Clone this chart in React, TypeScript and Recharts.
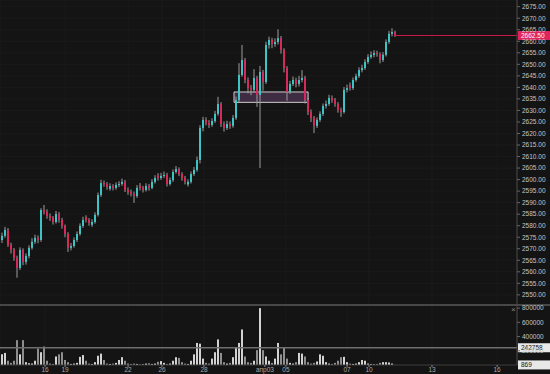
import React from "react";
import {
  ComposedChart,
  Bar,
  XAxis,
  YAxis,
  CartesianGrid,
  ReferenceLine,
  ReferenceArea,
  Cell,
} from "recharts";

// candle values, one every ~3px of the reference
const opens = [
  2573.8, 2575.6, 2578.0, 2571.7, 2569.5, 2566.0, 2561.7, 2569.5, 2564.3, 2566.9,
  2570.4, 2573.0, 2574.7, 2573.8, 2586.8, 2586.0, 2584.2, 2583.4, 2581.6, 2585.1,
  2582.5, 2579.9, 2576.4, 2570.4, 2571.2, 2573.8, 2576.4, 2579.9, 2583.6, 2582.5,
  2580.4, 2581.6, 2584.7, 2593.3, 2598.5, 2598.1, 2596.0, 2597.2, 2596.4, 2597.7,
  2598.1, 2599.0, 2595.5, 2594.6, 2593.8, 2592.9, 2597.4, 2596.4, 2595.5, 2597.2,
  2596.4, 2599.0, 2601.8, 2600.7, 2601.6, 2602.0, 2598.1, 2599.8, 2603.3, 2604.6,
  2602.4, 2600.7, 2597.9, 2599.0, 2602.4, 2604.2, 2608.5, 2622.4, 2625.9, 2624.6,
  2623.7, 2625.4, 2628.5, 2632.8, 2624.1, 2622.4, 2624.1, 2623.3, 2626.7, 2634.5,
  2645.4, 2651.9, 2643.2, 2639.7, 2638.9, 2644.1, 2636.7, 2646.7, 2642.3, 2658.4,
  2660.6, 2658.8, 2659.7, 2661.4, 2656.2, 2648.4, 2638.0, 2641.5, 2643.2, 2641.5,
  2643.2, 2644.1, 2634.5, 2629.3, 2626.7, 2623.3, 2625.9, 2628.5, 2631.9, 2632.8,
  2635.4, 2634.5, 2632.8, 2630.2, 2629.3, 2638.9, 2641.0, 2639.7, 2643.2, 2644.9,
  2647.5, 2648.4, 2651.0, 2653.2, 2654.1, 2654.9, 2654.5, 2651.9, 2654.1, 2659.7,
  2663.2, 2664.0,
];

const closes = [
  2575.6, 2578.2, 2571.7, 2569.5, 2566.0, 2561.7, 2569.5, 2564.3, 2566.9, 2570.4,
  2573.0, 2574.7, 2573.8, 2586.8, 2586.0, 2584.2, 2583.4, 2581.6, 2585.1, 2582.5,
  2579.9, 2576.4, 2570.4, 2571.2, 2573.8, 2576.4, 2579.9, 2582.5, 2582.5, 2581.2,
  2581.6, 2584.7, 2593.3, 2598.5, 2598.1, 2596.8, 2597.2, 2596.4, 2597.7, 2598.1,
  2599.0, 2595.5, 2594.6, 2593.8, 2592.9, 2596.4, 2596.4, 2595.5, 2597.2, 2596.4,
  2599.0, 2600.7, 2600.7, 2601.6, 2602.0, 2598.1, 2599.8, 2603.3, 2604.6, 2602.4,
  2600.7, 2599.0, 2599.0, 2602.4, 2604.2, 2608.5, 2622.4, 2625.9, 2624.6, 2623.7,
  2625.4, 2628.5, 2632.8, 2624.1, 2622.4, 2624.1, 2623.3, 2626.7, 2634.5, 2645.4,
  2651.9, 2643.2, 2639.7, 2638.9, 2644.1, 2636.7, 2646.7, 2642.3, 2658.4, 2660.6,
  2658.8, 2659.7, 2661.4, 2656.2, 2648.4, 2638.0, 2641.5, 2643.2, 2641.5, 2643.2,
  2644.1, 2634.5, 2629.3, 2626.7, 2623.3, 2625.9, 2628.5, 2631.9, 2632.8, 2635.4,
  2634.5, 2632.8, 2630.2, 2629.3, 2638.9, 2639.7, 2639.7, 2643.2, 2644.9, 2647.5,
  2648.4, 2651.0, 2653.2, 2654.1, 2654.9, 2654.5, 2651.9, 2654.1, 2659.7, 2663.2,
  2664.0, 2662.5,
];

const highs = [
  2577.0, 2579.5, 2579.0, 2572.6, 2570.3, 2567.0, 2570.6, 2570.2, 2568.0, 2571.5,
  2574.6, 2576.1, 2575.8, 2587.6, 2589.0, 2587.1, 2585.3, 2584.2, 2586.4, 2585.9,
  2583.4, 2580.5, 2577.2, 2572.5, 2574.9, 2577.5, 2581.0, 2583.9, 2584.5, 2583.3,
  2582.8, 2585.8, 2594.4, 2599.9, 2599.6, 2598.9, 2598.4, 2598.0, 2598.8, 2599.3,
  2600.4, 2599.8, 2596.6, 2595.7, 2594.8, 2597.6, 2598.5, 2597.3, 2598.4, 2598.1,
  2600.2, 2601.9, 2602.8, 2602.9, 2603.5, 2602.9, 2600.9, 2604.4, 2605.9, 2605.3,
  2603.2, 2601.6, 2600.1, 2603.5, 2605.5, 2610.0, 2623.6, 2627.2, 2627.0, 2625.8,
  2626.6, 2629.8, 2635.9, 2633.6, 2625.2, 2625.5, 2625.2, 2628.0, 2636.0, 2650.5,
  2658.4, 2652.8, 2644.3, 2641.0, 2647.9, 2645.0, 2649.3, 2647.6, 2659.8, 2662.0,
  2661.5, 2661.3, 2665.2, 2662.3, 2657.0, 2649.2, 2642.8, 2644.7, 2644.2, 2645.0,
  2647.5, 2645.0, 2635.4, 2630.4, 2627.6, 2627.0, 2629.6, 2633.0, 2634.3, 2636.8,
  2636.5, 2635.4, 2633.6, 2631.2, 2640.2, 2641.2, 2642.1, 2644.3, 2646.0, 2648.7,
  2649.8, 2652.2, 2654.4, 2655.6, 2656.1, 2655.9, 2655.2, 2655.3, 2660.8, 2664.5,
  2665.6, 2664.6,
];

const lows = [
  2572.5, 2574.8, 2570.8, 2567.9, 2564.8, 2557.4, 2560.8, 2562.9, 2563.1, 2565.8,
  2569.6, 2572.1, 2572.4, 2573.0, 2584.9, 2583.0, 2582.1, 2580.5, 2580.9, 2581.3,
  2578.7, 2575.0, 2568.6, 2569.3, 2570.5, 2572.9, 2575.7, 2579.1, 2581.4, 2580.0,
  2579.5, 2580.9, 2584.0, 2592.5, 2596.9, 2595.6, 2595.2, 2595.3, 2595.6, 2596.7,
  2597.3, 2594.6, 2593.4, 2592.7, 2589.9, 2592.1, 2595.3, 2594.4, 2594.8, 2595.2,
  2595.8, 2598.3, 2599.6, 2599.9, 2600.7, 2597.0, 2597.4, 2599.0, 2602.6, 2601.5,
  2599.5, 2597.9, 2597.0, 2598.3, 2601.6, 2603.4, 2607.0, 2620.9, 2623.5, 2622.4,
  2622.9, 2624.6, 2627.7, 2622.8, 2620.8, 2621.5, 2622.0, 2622.5, 2625.9, 2633.6,
  2644.6, 2641.8, 2637.4, 2636.6, 2638.0, 2631.5, 2605.0, 2638.5, 2641.5, 2656.8,
  2657.0, 2657.6, 2658.6, 2654.6, 2646.5, 2634.2, 2637.1, 2640.6, 2640.0, 2640.4,
  2642.2, 2633.0, 2628.0, 2625.0, 2620.2, 2622.4, 2625.0, 2627.6, 2630.8, 2632.0,
  2633.3, 2631.6, 2629.0, 2627.2, 2628.6, 2637.8, 2638.6, 2638.9, 2642.4, 2644.1,
  2646.5, 2647.6, 2650.2, 2652.4, 2653.0, 2653.3, 2650.4, 2651.0, 2653.4, 2658.9,
  2662.1, 2661.9,
];

const volumes = [
  150000, 170000, 60000, 30000, 60000, 350000, 150000, 350000, 40000, 25000,
  20000, 60000, 230000, 180000, 260000, 60000, 20000, 15000, 120000, 150000,
  180000, 70000, 40000, 15000, 20000, 30000, 115000, 140000, 60000, 20000,
  15000, 40000, 130000, 160000, 70000, 20000, 15000, 20000, 30000, 70000,
  110000, 60000, 20000, 15000, 20000, 15000, 10000, 15000, 20000, 25000,
  15000, 20000, 45000, 55000, 30000, 15000, 20000, 60000, 110000, 100000,
  40000, 20000, 15000, 60000, 150000, 310000, 300000, 90000, 30000, 20000,
  90000, 180000, 360000, 170000, 40000, 20000, 30000, 110000, 250000, 310000,
  500000, 120000, 40000, 30000, 60000, 210000, 800000, 210000, 120000, 60000,
  30000, 90000, 310000, 150000, 240000, 90000, 30000, 20000, 40000, 170000,
  160000, 120000, 40000, 20000, 30000, 50000, 150000, 130000, 40000, 20000,
  15000, 30000, 60000, 110000, 115000, 40000, 20000, 15000, 20000, 40000,
  70000, 60000, 20000, 15000, 10000, 15000, 30000, 40000, 40000, 35000,
  20000, 869,
];

const priceTicks = [
  2550, 2555, 2560, 2565, 2570, 2575, 2580, 2585, 2590, 2595, 2600, 2605, 2610,
  2615, 2620, 2625, 2630, 2635, 2640, 2645, 2650, 2655, 2660, 2665, 2670, 2675,
];
const volumeTicks = [200000, 400000, 600000, 800000];

// date ticks, in candle-index units
const dateTicks = [14.5, 21.2, 42.2, 53.5, 67.5, 87.8, 94.8, 115.2, 122.5, 143.5, 165.2];
const dateLabels = ["16", "19", "22", "26", "28", "апр03", "05", "07", "10", "13", "16"];

const lastPrice = 2662.5;
const volumeLevel = 242758;
const lastVolume = 869;
const zone = { x1: 77.5, x2: 102.2, y1: 2633.5, y2: 2638.0 };

const BG = "#141414";
const UP = "#3fc4c6";
const DOWN = "#d9285c";
const WICK = "#9c9c9c";
const FONT = "Liberation Sans, Arial, sans-serif";
const X_DOMAIN: [number, number] = [-0.5, 171.83];

const candles = closes.map((close, i) => ({
  i,
  open: opens[i],
  high: highs[i],
  low: lows[i],
  close,
  vol: volumes[i],
}));

const Candle = (props: any) => {
  const { x, y, width, height, payload } = props;
  if (x == null || y == null) return null;
  const { open, close, high, low } = payload;
  const top0 = Math.min(y, y + height);
  const h = Math.abs(height);
  const k = h / (high - low || 1);
  const bodyTop = top0 + (high - Math.max(open, close)) * k;
  const bodyBot = top0 + (high - Math.min(open, close)) * k;
  const cx = x + width / 2;
  return (
    <g>
      <line x1={cx} x2={cx} y1={top0} y2={top0 + h} stroke={WICK} strokeWidth={1} />
      <rect
        x={x}
        y={bodyTop}
        width={width}
        height={Math.max(1, bodyBot - bodyTop)}
        fill={close >= open ? UP : DOWN}
      />
    </g>
  );
};

const AxisTag = ({ viewBox, text, fill, color }: any) => {
  if (!viewBox) return null;
  const x = viewBox.x + viewBox.width + 1;
  return (
    <g>
      <rect x={x} y={viewBox.y - 4.5} width={32} height={9} fill={fill} />
      <text
        x={x + 3}
        y={viewBox.y + 2.3}
        fontSize={6.5}
        fontFamily={FONT}
        fill={color}
      >
        {text}
      </text>
    </g>
  );
};

const tickStyle = { fill: "#c4c4c4", fontSize: 6.5, fontFamily: FONT };

export default function App() {
  return (
    <div
      style={{
        position: "absolute",
        left: 0,
        top: 0,
        width: 550,
        height: 374,
        background: BG,
        overflow: "hidden",
      }}
    >
      <ComposedChart
        width={550}
        height={305}
        data={candles}
        margin={{ top: 0, right: 0, bottom: 0, left: 0 }}
      >
        <CartesianGrid stroke="#1a1a1a" strokeWidth={1} />
        <XAxis
          type="number"
          dataKey="i"
          domain={X_DOMAIN}
          ticks={dateTicks}
          allowDataOverflow
          hide
        />
        <YAxis
          orientation="right"
          width={33}
          domain={[2545.6, 2677.9]}
          ticks={priceTicks}
          interval={0}
          allowDataOverflow
          tick={tickStyle}
          tickSize={3}
          tickMargin={2}
          tickLine={{ stroke: "#666" }}
          axisLine={{ stroke: "#4a4a4a" }}
          tickFormatter={(v: number) => v.toFixed(2)}
        />
        <Bar
          dataKey={(d: any) => [d.low, d.high]}
          barSize={2}
          isAnimationActive={false}
          shape={(p: any) => <Candle {...p} />}
        />
        <ReferenceArea
          x1={zone.x1}
          x2={zone.x2}
          y1={zone.y1}
          y2={zone.y2}
          fill="#8c5a9c"
          fillOpacity={0.35}
          stroke="#cfcfcf"
          strokeWidth={1}
        />
        <ReferenceLine
          segment={[
            { x: 131, y: lastPrice },
            { x: X_DOMAIN[1], y: lastPrice },
          ]}
          stroke="#c81848"
          strokeWidth={1}
        />
        <ReferenceLine
          y={lastPrice}
          stroke="none"
          label={<AxisTag text="2662.50" fill="#e0245e" color="#fff" />}
        />
      </ComposedChart>

      <div
        style={{
          position: "absolute",
          left: 0,
          top: 304,
          width: 550,
          height: 2,
          background: "#474747",
        }}
      />

      <div style={{ position: "absolute", left: 0, top: 305 }}>
        <ComposedChart
          width={550}
          height={69}
          data={candles}
          margin={{ top: 1, right: 0, bottom: 0, left: 0 }}
        >
          <CartesianGrid stroke="#1a1a1a" horizontal={false} />
          <XAxis
            type="number"
            dataKey="i"
            domain={X_DOMAIN}
            ticks={dateTicks}
            interval={0}
            allowDataOverflow
            height={9}
            tick={{ fill: "#a8a8a8", fontSize: 6.5, fontFamily: FONT }}
            tickSize={2}
            tickMargin={0}
            tickLine={{ stroke: "#888" }}
            axisLine={{ stroke: "#3c3c3c" }}
            tickFormatter={(v: number) => dateLabels[dateTicks.indexOf(v)] ?? ""}
          />
          <YAxis
            orientation="right"
            width={33}
            domain={[0, 830000]}
            ticks={volumeTicks}
            interval={0}
            allowDataOverflow
            tick={tickStyle}
            tickSize={3}
            tickMargin={2}
            tickLine={{ stroke: "#666" }}
            axisLine={{ stroke: "#4a4a4a" }}
          />
          <Bar dataKey="vol" barSize={2} isAnimationActive={false}>
            {candles.map((c) => (
              <Cell key={c.i} fill={c.close >= c.open ? "#d2d2d2" : "#8e8e8e"} />
            ))}
          </Bar>
          <ReferenceLine
            y={volumeLevel}
            stroke="#6e6e6e"
            strokeWidth={1.5}
            label={<AxisTag text={String(volumeLevel)} fill="#e8e8e8" color="#111" />}
          />
          <ReferenceLine
            y={lastVolume}
            stroke="none"
            label={<AxisTag text={String(lastVolume)} fill="#e8e8e8" color="#111" />}
          />
        </ComposedChart>
      </div>

      <div
        style={{
          position: "absolute",
          left: 511,
          top: 305,
          color: "#8a8a8a",
          fontSize: 8,
          fontFamily: FONT,
        }}
      >
        ×
      </div>
    </div>
  );
}
